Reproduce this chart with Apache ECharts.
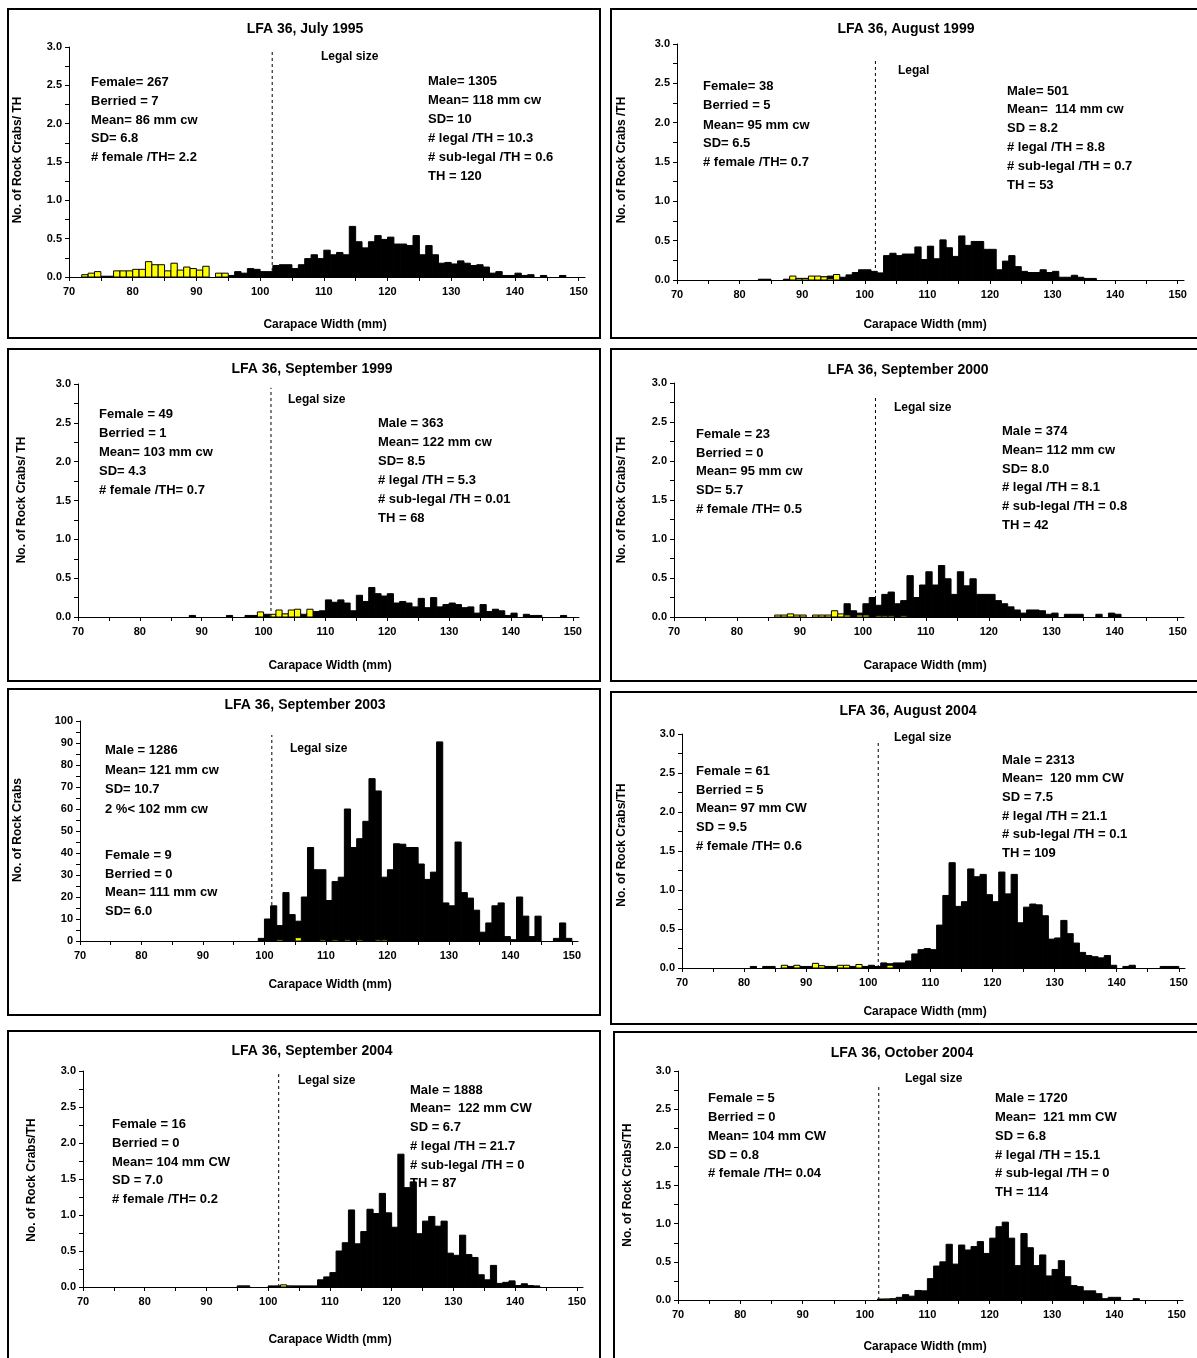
<!DOCTYPE html>
<html><head><meta charset="utf-8">
<script src="https://cdn.jsdelivr.net/npm/echarts@6/dist/echarts.min.js"></script>
<style>html,body{margin:0;padding:0;background:#fff}#c{width:1197px;height:1358px}</style>
</head><body><div id="c"></div>
<script>
// ---------------- DATA ----------------
const xTickValues = [70,75,80,85,90,95,100,105,110,115,120,125,130,135,140,145,150];
const xLabelValues = [70,80,90,100,110,120,130,140,150];

// Bin values: each array starts at the given carapace width (1 mm bins)
const jul95FemaleStart = 72;
const jul95Female = [0.03,0.05,0.07,0,0,0.08,0.08,0.08,0.10,0.10,0.20,0.16,0.16,0.08,0.18,0.09,0.13,0.11,0.09,0.14,0,0.05,0.05];
const jul95MaleStart = 75;
const jul95Male = [0.01,0.01,0,0,0,0,0,0,0,0,0,0,0,0,0,0,0,0,0,0,0.02,0.07,0.05,0.11,0.10,0.07,0.07,0.15,0.16,0.16,0.11,0.16,0.24,0.29,0.24,0.35,0.29,0.32,0.29,0.66,0.46,0.38,0.46,0.54,0.49,0.52,0.43,0.43,0.41,0.54,0.29,0.41,0.29,0.18,0.19,0.17,0.21,0.18,0.15,0.16,0.13,0.05,0.07,0.02,0.02,0.05,0.02,0.03,0,0.02,0,0,0.02];

const aug99FemaleStart = 88;
const aug99Female = [0.05,0.02,0.02,0.05,0.05,0.04,0.02,0.07];
const aug99MaleStart = 83;
const aug99Male = [0.01,0.01,0,0,0.01,0.02,0.02,0.02,0.02,0.02,0.04,0.05,0.04,0.035,0.065,0.095,0.13,0.13,0.11,0.09,0.31,0.34,0.31,0.33,0.33,0.42,0.26,0.43,0.27,0.51,0.41,0.30,0.56,0.44,0.49,0.49,0.39,0.39,0.13,0.24,0.31,0.17,0.11,0.095,0.095,0.13,0.095,0.11,0.035,0.035,0.06,0.035,0.02,0.02];

const sep99FemaleStart = 99;
const sep99Female = [0.065,0,0.035,0.09,0.04,0.09,0.10,0,0.10];
const sep99MaleStart = 88;
const sep99Male = [0.02,0,0,0,0,0,0.02,0,0,0.02,0.02,0.02,0.035,0.02,0.03,0.035,0.05,0.05,0.035,0.05,0.07,0.08,0.22,0.19,0.22,0.18,0.08,0.28,0.20,0.38,0.30,0.27,0.30,0.18,0.20,0.18,0.13,0.24,0.12,0.25,0.13,0.16,0.18,0.16,0.12,0.13,0.05,0.16,0.07,0.10,0.08,0.02,0.05,0,0.035,0.02,0.02,0,0,0,0.02];

const sep00FemaleStart = 86;
const sep00Female = [0.025,0.025,0.04,0.025,0.025,0,0.025,0.025,0.025,0.08,0.04,0.025,0,0.025,0.025,0,0.015,0.015,0.015,0,0.015];
const sep00MaleStart = 95;
const sep00Male = [0.03,0.03,0.17,0.08,0.05,0.17,0.25,0.15,0.29,0.32,0.17,0.21,0.53,0.25,0.41,0.58,0.41,0.66,0.49,0.29,0.58,0.40,0.49,0.29,0.29,0.29,0.21,0.17,0.13,0.09,0.05,0.09,0.09,0.08,0.035,0.05,0,0.035,0.035,0.035,0,0,0.035,0,0.05,0.035];

const sep03FemaleStart = 102;
const sep03Female = [0.6,0,0,1.5,0,0,0,0.5,0,0.5,0,0.5,0,0.5,0,0,0.5,0.5];
const sep03MaleStart = 99;
const sep03Male = [1.2,10,16,7,22,12,9,20,42.5,32.4,32.4,18.4,27,29,60,42.5,46.5,54.4,73.8,68.2,29,32.4,44.2,44,42.5,42.5,35,28,31.3,90.5,17.3,16,45,22,19.5,14,4,8.2,16,17.3,2,0.6,20,11.3,2,11.3,0,0,1.2,8.2,1.2];

const aug04FemaleStart = 86;
const aug04Female = [0.035,0,0.035,0,0,0.06,0.03,0,0,0.035,0.035,0,0.045,0,0,0,0,0.035];
const aug04MaleStart = 81;
const aug04Male = [0.02,0,0.02,0.02,0,0.02,0.02,0.02,0.02,0.02,0.02,0.02,0.02,0.02,0.02,0.02,0.02,0.02,0.02,0.035,0.02,0.065,0.055,0.065,0.065,0.09,0.18,0.235,0.25,0.235,0.55,0.93,1.35,0.79,0.85,1.27,1.17,1.20,0.94,0.85,1.23,0.95,1.20,0.58,0.78,0.82,0.81,0.67,0.37,0.385,0.61,0.44,0.32,0.20,0.16,0.145,0.13,0.16,0.035,0,0.02,0.035,0,0,0,0,0.02,0.02,0.02];

const sep04FemaleStart = 95;
const sep04Female = [0.01,0.01,0,0,0,0,0,0.03,0.01];
const sep04MaleStart = 95;
const sep04Male = [0.015,0.015,0,0,0,0.015,0.015,0.015,0.015,0.015,0.015,0.015,0.015,0.10,0.14,0.20,0.50,0.615,1.07,0.60,0.77,1.08,1.02,1.30,1.03,0.83,1.845,1.38,1.46,0.74,0.915,0.98,0.845,0.915,0.47,0.44,0.72,0.45,0.41,0.17,0.10,0.30,0.05,0.065,0.085,0.02,0.045,0.02,0.015];

const oct04FemaleStart = 103;
const oct04Female = [0.01,0.01,0.01];
const oct04MaleStart = 102;
const oct04Male = [0.013,0.013,0.017,0.035,0.07,0.05,0.125,0.12,0.28,0.445,0.50,0.73,0.47,0.72,0.655,0.70,0.765,0.61,0.81,0.96,1.02,0.81,0.45,0.87,0.685,0.45,0.59,0.315,0.40,0.515,0.305,0.19,0.175,0.12,0.12,0.083,0.017,0.035,0.035,0,0,0.017];

const titles = ["LFA 36, July 1995","LFA 36, August 1999","LFA 36, September 1999","LFA 36, September 2000","LFA 36, September 2003","LFA 36, August 2004","LFA 36, September 2004","LFA 36, October 2004"];
const legalSize = [101.9, 101.7, 101.2, 102.0, 101.2, 101.6, 101.7, 102.2];
const legalTexts = ["Legal size","Legal","Legal size","Legal size","Legal size","Legal size","Legal size","Legal size"];
const yTitles = ["No. of Rock Crabs/ TH","No. of Rock Crabs /TH","No. of Rock Crabs/ TH","No. of Rock Crabs/ TH","No. of Rock Crabs","No. of Rock Crabs/TH","No. of Rock Crabs/TH","No. of Rock Crabs/TH"];
const xTitle = "Carapace Width (mm)";
const leftTexts = [
  ["Female= 267","Berried = 7","Mean= 86 mm cw","SD= 6.8","# female /TH= 2.2"],
  ["Female= 38","Berried = 5","Mean= 95 mm cw","SD= 6.5","# female /TH= 0.7"],
  ["Female = 49","Berried = 1","Mean= 103 mm cw","SD= 4.3","# female /TH= 0.7"],
  ["Female = 23","Berried = 0","Mean= 95 mm cw","SD= 5.7","# female /TH= 0.5"],
  ["Male = 1286","Mean= 121 mm cw","SD= 10.7","2 %< 102 mm cw","Female = 9","Berried = 0","Mean= 111 mm cw","SD= 6.0"],
  ["Female = 61","Berried = 5","Mean= 97 mm CW","SD = 9.5","# female /TH= 0.6"],
  ["Female = 16","Berried = 0","Mean= 104 mm CW","SD = 7.0","# female /TH= 0.2"],
  ["Female = 5","Berried = 0","Mean= 104 mm CW","SD = 0.8","# female /TH= 0.04"]
];
const rightTexts = [
  ["Male= 1305","Mean= 118 mm cw","SD= 10","# legal /TH = 10.3","# sub-legal /TH = 0.6","TH = 120"],
  ["Male= 501","Mean=  114 mm cw","SD = 8.2","# legal /TH = 8.8","# sub-legal /TH = 0.7","TH = 53"],
  ["Male = 363","Mean= 122 mm cw","SD= 8.5","# legal /TH = 5.3","# sub-legal /TH = 0.01","TH = 68"],
  ["Male = 374","Mean= 112 mm cw","SD= 8.0","# legal /TH = 8.1","# sub-legal /TH = 0.8","TH = 42"],
  [],
  ["Male = 2313","Mean=  120 mm CW","SD = 7.5","# legal /TH = 21.1","# sub-legal /TH = 0.1","TH = 109"],
  ["Male = 1888","Mean=  122 mm CW","SD = 6.7","# legal /TH = 21.7","# sub-legal /TH = 0","TH = 87"],
  ["Male = 1720","Mean=  121 mm CW","SD = 6.8","# legal /TH = 15.1","# sub-legal /TH = 0","TH = 114"]
];
const femaleSeries = [[jul95FemaleStart,jul95Female],[aug99FemaleStart,aug99Female],[sep99FemaleStart,sep99Female],[sep00FemaleStart,sep00Female],[sep03FemaleStart,sep03Female],[aug04FemaleStart,aug04Female],[sep04FemaleStart,sep04Female],[oct04FemaleStart,oct04Female]];
const maleSeries = [[jul95MaleStart,jul95Male],[aug99MaleStart,aug99Male],[sep99MaleStart,sep99Male],[sep00MaleStart,sep00Male],[sep03MaleStart,sep03Male],[aug04MaleStart,aug04Male],[sep04MaleStart,sep04Male],[oct04MaleStart,oct04Male]];

// ---------------- LAYOUT ----------------
const layout = [
  {box:[8,9,592,329], grid:[69,47,516,230], ymax:3, legalTop:2.97, title:[305,29], legal:[321,57], lx:91, ly:[82,101,120,138,157], rx:428, ry:[81,100,119,138,157,176], yt:[18,160], xt:[325,325]},
  {box:[611,9,600,329], grid:[677,44,507,236], ymax:3, legalTop:2.80, title:[906,29], legal:[898,71], lx:703, ly:[86,105,125,143,162], rx:1007, ry:[91,109,128,147,166,185], yt:[622,160], xt:[925,325]},
  {box:[8,349,592,332], grid:[78,384,501,233], ymax:3, legalTop:2.95, title:[312,369], legal:[288,400], lx:99, ly:[414,433,452,471,490], rx:378, ry:[423,442,461,480,499,518], yt:[22,500], xt:[330,666]},
  {box:[611,349,600,332], grid:[674,383,510,234], ymax:3, legalTop:2.81, title:[908,370], legal:[894,408], lx:696, ly:[434,453,471,490,509], rx:1002, ry:[431,450,469,487,506,525], yt:[622,500], xt:[925,666]},
  {box:[8,689,592,326], grid:[80,721,498,220], ymax:100, legalTop:93.6, title:[305,705], legal:[290,749], lx:105, ly:[750,770,789,809,855,874,892,911], rx:0, ry:[], yt:[18,830], xt:[330,985]},
  {box:[611,692,600,332], grid:[682,734,503,234], ymax:3, legalTop:2.92, title:[908,711], legal:[894,738], lx:696, ly:[771,790,808,827,846], rx:1002, ry:[760,778,797,816,834,853], yt:[622,845], xt:[925,1012]},
  {box:[8,1031,592,330], grid:[83,1071,500,216], ymax:3, legalTop:2.99, title:[312,1051], legal:[298,1081], lx:112, ly:[1124,1143,1162,1180,1199], rx:410, ry:[1090,1108,1127,1146,1165,1183], yt:[32,1180], xt:[330,1340]},
  {box:[614,1032,600,330], grid:[678,1071,505,229], ymax:3, legalTop:2.82, title:[902,1053], legal:[905,1079], lx:708, ly:[1098,1117,1136,1155,1173], rx:995, ry:[1098,1117,1136,1155,1173,1192], yt:[628,1185], xt:[925,1347]}
];

const FF = '"Liberation Sans", Arial, sans-serif';
function toPairs(start, vals){ return vals.map((v,k)=>[start+k, v]); }
function barRender(fill){
  return function(params, api){
    const v = api.value(0), h = api.value(1);
    if (!h) return null;
    const a = api.coord([v, h]);
    const b = api.coord([v + 1, 0]);
    return {type:'rect', shape:{x:a[0], y:a[1], width:b[0]-a[0], height:b[1]-a[1]},
      style:{fill:fill, stroke:'#000', lineWidth:1}};
  };
}

const grids=[], xAxes=[], yAxes=[], series=[], graphics=[];
layout.forEach((L,i)=>{
  grids.push({left:L.grid[0], top:L.grid[1], width:L.grid[2], height:L.grid[3], containLabel:false});
  xAxes.push({type:'value', gridIndex:i, min:70, max:151,
    axisLine:{show:true, onZero:false, lineStyle:{color:'#000', width:1}},
    axisTick:{show:true, customValues:xTickValues, length:4, lineStyle:{color:'#000'}},
    axisLabel:{customValues:xLabelValues, color:'#000', fontWeight:'bold', fontSize:11, fontFamily:FF, margin:9},
    splitLine:{show:false}});
  const isCount = L.ymax === 100;
  yAxes.push({type:'value', gridIndex:i, min:0, max:L.ymax, interval:isCount?10:0.5,
    axisLine:{show:true, lineStyle:{color:'#000', width:1}},
    axisTick:{show:true, length:4, lineStyle:{color:'#000'}},
    minorTick:{show:true, splitNumber:2, length:4, lineStyle:{color:'#000'}},
    axisLabel:{color:'#000', fontWeight:'bold', fontSize:11, fontFamily:FF, margin:7,
      formatter: v => isCount ? String(v) : v.toFixed(1)},
    splitLine:{show:false}, minorSplitLine:{show:false}});
  series.push({type:'custom', xAxisIndex:i, yAxisIndex:i, renderItem:barRender('#000'),
    encode:{x:0,y:1}, data:toPairs(maleSeries[i][0], maleSeries[i][1]), silent:true});
  series.push({type:'custom', xAxisIndex:i, yAxisIndex:i, renderItem:barRender('#FFFF00'),
    encode:{x:0,y:1}, data:toPairs(femaleSeries[i][0], femaleSeries[i][1]), silent:true});
  series.push({type:'line', xAxisIndex:i, yAxisIndex:i, symbol:'none', silent:true, z:5,
    lineStyle:{color:'#000', width:1, type:[3,3]},
    data:[[legalSize[i],0],[legalSize[i],L.legalTop]]});

  graphics.push({type:'rect', shape:{x:L.box[0], y:L.box[1], width:L.box[2], height:L.box[3]},
    style:{fill:'none', stroke:'#000', lineWidth:2}, silent:true});
  const txt = (x,y,t,size,align)=>({type:'text', x:x, y:y, silent:true,
    style:{text:t, font:'bold '+size+'px '+FF, fill:'#000', textAlign:align||'left', align:align||'left', textVerticalAlign:'middle', verticalAlign:'middle'}});
  graphics.push(txt(L.title[0], L.title[1], titles[i], 14, 'center'));
  graphics.push(txt(L.legal[0], L.legal[1], legalTexts[i], 12));
  leftTexts[i].forEach((t,k)=>graphics.push(txt(L.lx, L.ly[k], t, 13)));
  rightTexts[i].forEach((t,k)=>graphics.push(txt(L.rx, L.ry[k], t, 13)));
  graphics.push(txt(L.xt[0], L.xt[1], xTitle, 12, 'center'));
  const yt = txt(L.yt[0], L.yt[1], yTitles[i], 12, 'center');
  yt.rotation = Math.PI/2;
  graphics.push(yt);
});

const chart = echarts.init(document.getElementById('c'), null, {renderer:'canvas'});
chart.setOption({
  animation:false, backgroundColor:'#fff',
  grid:grids, xAxis:xAxes, yAxis:yAxes, series:series, graphic:{elements:graphics}
});
</script></body></html>
